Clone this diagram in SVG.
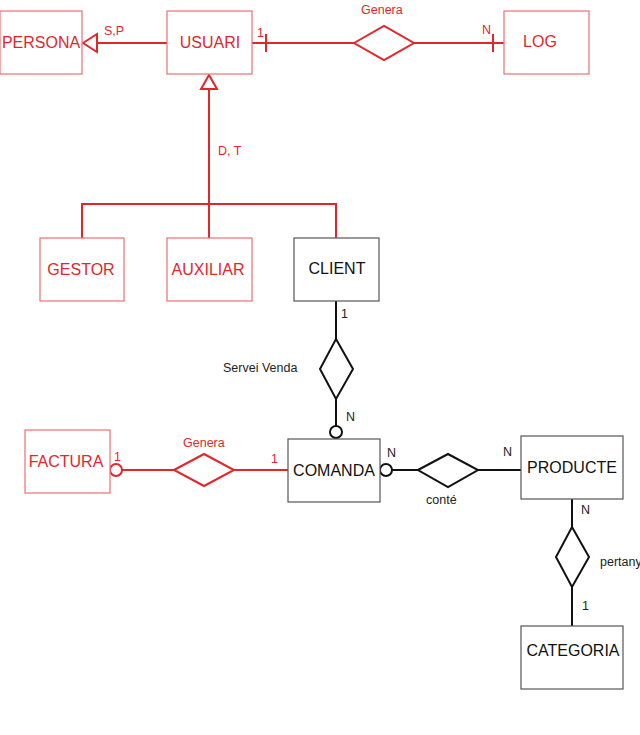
<svg xmlns="http://www.w3.org/2000/svg" width="640" height="735" viewBox="0 0 640 735">
<style>
text{font-family:"Liberation Sans",Arial,sans-serif}
.rb{fill:#fff;stroke:#ef6f73;stroke-width:1.2}
.kb{fill:#fff;stroke:#555;stroke-width:1.2}
.rt{fill:#e3262b;font-size:16px;text-anchor:middle}
.kt{fill:#111;font-size:16px;text-anchor:middle}
.rl{fill:#e3262b;font-size:12.5px}
.kl{fill:#222;font-size:12.5px}
.rline{fill:none;stroke:#e3262b;stroke-width:2}
.kline{fill:none;stroke:#111;stroke-width:2}
.rdia{fill:#fff;stroke:#e3262b;stroke-width:2}
.kdia{fill:#fff;stroke:#111;stroke-width:2}
</style>
<rect width="640" height="735" fill="#fff"/>
<g id="connectors">
  <line class="rline" x1="167" y1="43" x2="97" y2="43"/>
  <polygon class="rdia" points="83,43 97,34 97,52"/>
  <text class="rl" x="104" y="35">S,P</text>
  <line class="rline" x1="252" y1="43" x2="505" y2="43"/>
  <line class="rline" x1="266" y1="34" x2="266" y2="52"/>
  <line class="rline" x1="493" y1="34" x2="493" y2="52"/>
  <text class="rl" x="257" y="37">1</text>
  <text class="rl" x="482" y="34">N</text>
  <polygon class="rdia" points="209,75 201,89 217,89"/>
  <line class="rline" x1="209" y1="89" x2="209" y2="238"/>
  <polyline class="rline" points="82,238 82,204 336,204 336,238"/>
  <text class="rl" x="218" y="155">D, T</text>
  <line class="kline" x1="336" y1="301" x2="336" y2="426"/>
  <circle cx="336" cy="432" r="6" fill="#fff" stroke="#111" stroke-width="2"/>
  <text class="kl" x="341" y="318">1</text>
  <text class="kl" x="346" y="421">N</text>
  <text class="kl" x="223" y="372">Servei Venda</text>
  <circle cx="116" cy="470" r="6" fill="#fff" stroke="#e3262b" stroke-width="2"/>
  <line class="rline" x1="122" y1="470" x2="288" y2="470"/>
  <text class="rl" x="114" y="461">1</text>
  <text class="rl" x="271" y="463">1</text>
  <text class="rl" x="183" y="447">Genera</text>
  <circle cx="386" cy="470" r="6" fill="#fff" stroke="#111" stroke-width="2"/>
  <line class="kline" x1="392" y1="470" x2="521" y2="470"/>
  <text class="kl" x="387" y="457">N</text>
  <text class="kl" x="503" y="456">N</text>
  <text class="kl" x="426" y="504">conté</text>
  <line class="kline" x1="572" y1="499" x2="572" y2="626"/>
  <text class="kl" x="581" y="514">N</text>
  <text class="kl" x="582" y="610">1</text>
  <text class="kl" x="600" y="566">pertany</text>
</g>
<g id="rel-genera-log">
  <polygon class="rdia" points="354,43 384,26 414,43 384,60"/>
  <text class="rl" x="361" y="14">Genera</text>
</g>
<g id="rel-servei-venda">
  <polygon class="kdia" points="336,339 353,369 336,399 320,369"/>
</g>
<g id="rel-genera-factura">
  <polygon class="rdia" points="174,470 204,454 234,470 204,486"/>
</g>
<g id="rel-conte">
  <polygon class="kdia" points="418,470 448,454 478,470 448,487"/>
</g>
<g id="rel-pertany">
  <polygon class="kdia" points="572,527 589,557 572,587 556,557"/>
</g>
<g id="persona">
  <rect class="rb" x="0" y="11" width="82" height="63"/>
  <text class="rt" x="41" y="48">PERSONA</text>
</g>
<g id="usuari">
  <rect class="rb" x="167" y="11" width="85" height="63"/>
  <text class="rt" x="210" y="48">USUARI</text>
</g>
<g id="log">
  <rect class="rb" x="504" y="11" width="85" height="63"/>
  <text class="rt" x="540" y="47">LOG</text>
</g>
<g id="gestor">
  <rect class="rb" x="40" y="238" width="84" height="63"/>
  <text class="rt" x="81" y="275">GESTOR</text>
</g>
<g id="auxiliar">
  <rect class="rb" x="167" y="238" width="85" height="63"/>
  <text class="rt" x="208" y="275">AUXILIAR</text>
</g>
<g id="client">
  <rect class="kb" x="294" y="238" width="85" height="63"/>
  <text class="kt" x="337" y="274">CLIENT</text>
</g>
<g id="factura">
  <rect class="rb" x="25" y="430" width="85" height="63"/>
  <text class="rt" x="66" y="467">FACTURA</text>
</g>
<g id="comanda">
  <rect class="kb" x="288" y="439" width="92" height="63"/>
  <text class="kt" x="334" y="476">COMANDA</text>
</g>
<g id="producte">
  <rect class="kb" x="521" y="436" width="102" height="63"/>
  <text class="kt" x="572" y="473">PRODUCTE</text>
</g>
<g id="categoria">
  <rect class="kb" x="521" y="626" width="102" height="63"/>
  <text class="kt" x="573" y="656">CATEGORIA</text>
</g>
</svg>
